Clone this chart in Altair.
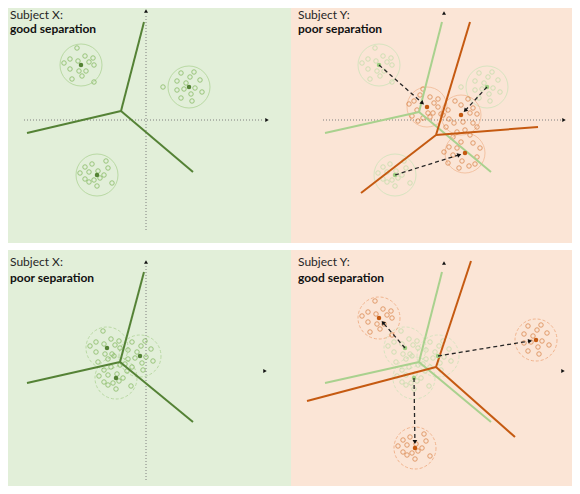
import math
import altair as alt
import pandas as pd

# ---------------- data (reference pixel frame) ----------------
panel_x0 = [3, 291, 3, 291]
panel_x1 = [291, 578, 291, 578]
panel_y0 = [0, 0, 250, 250]
panel_y1 = [243, 243, 494, 494]
panel_fill = ["#e2efd9", "#fbe5d6", "#e2efd9", "#fbe5d6"]

origin_x = [146, 444, 146, 444]
origin_y = [120, 120, 370, 370]

title_line1 = ["Subject X:", "Subject Y:", "Subject X:", "Subject Y:"]
title_line2 = ["good separation", "poor separation", "poor separation", "good separation"]
title_x = [10, 298, 10, 298]
title_y1 = [15, 15, 262, 262]
title_y2 = [29, 29, 278, 278]

# axis lines (dotted) and axis arrow heads
axis_x = [146, 24, 323, 146]
axis_y = [230, 120, 120, 480]
axis_x2 = [146, 264, 561, 146]
axis_y2 = [14, 120, 120, 265]
head_x = [146, 267, 444, 564, 146, 265, 444, 563]
head_y = [11, 120, 13, 120, 262, 371, 263, 371]
head_angle = [0, 90, 0, 90, 0, 90, 0, 90]

# decision boundaries relative to panel origin: junction + three branch ends
x_junction = [(-25, -9), (-25, -8), (-26, -8), (-25, -8)]
x_ends = [(-2, -98), (-119, 13), (47, 52)]
x_line_color = ["#548235", "#a9d18e", "#548235", "#a9d18e"]
y_junction = {1: (-8, 15), 3: (-8, -3)}
y_ends = {1: [(26, -98), (94, 7), (-83, 73)], 3: [(27, -109), (-137, 31), (71, 67)]}

# cluster point patterns (offsets from cluster centre)
pattern_1 = [(-4, -17), (-17, -2), (-11, -6), (-3, -4), (4, -9), (12, -7), (8, -3), (13, 0),
             (-11, 4), (-2, 6), (5, 6), (1, 11), (-9, 14), (13, 17)]
pattern_2 = [(-26, 0), (-8, -14), (5, -15), (-12, -6), (1, -10), (11, -7), (-3, -4), (-5, 2),
             (-12, 3), (6, 1), (13, 5), (2, 7), (-8, 11), (3, 14)]
pattern_3 = [(-12, -8), (-5, -11), (9, -14), (11, -7), (-17, -2), (-8, -3), (1, -4), (7, 0),
             (-12, 4), (-8, 7), (-3, 5), (3, 3), (15, 8), (0, 11)]
pattern_a = [(-4, -18), (-13, -6), (-18, -3), (3, -10), (11, -8), (7, -4), (-10, 3), (1, 6),
             (6, 6), (11, 0), (-4, 11), (3, 10), (-9, 14), (14, 7), (-7, -12), (-15, 9)]
pattern_b = [(0, -10), (-13, -5), (12, -7), (-12, 4), (-7, 8), (2, 7), (16, -1), (4, 15),
             (12, 8), (7, -16), (-6, -14), (-18, 0), (-4, 17), (16, 12), (9, -2), (-15, 12)]
pattern_c = [(-12, -16), (5, -18), (-4, -11), (8, -10), (-16, -6), (-8, -5), (-21, -1), (12, 4),
             (-12, 2), (-3, 8), (15, -5), (-6, 15), (4, 13), (-17, 10), (10, 11)]

x_good_centres = [(-65, -55), (43, -33), (-49, 55)]
x_poor_centres = [(-39, -22), (-6, -14), (-30, 8)]
y_poor_centres = [(-17, -13), (17, -5), (21, 33)]
y_good_centres = [(-65, -52), (92, -30), (-29, 78)]

# ---------------- build tables ----------------
panels = pd.DataFrame({"x0": panel_x0, "x1": panel_x1, "y0": panel_y0, "y1": panel_y1, "fill": panel_fill})

segs = []
for p in range(4):
    ox, oy = origin_x[p], origin_y[p]
    jx, jy = x_junction[p]
    for ex, ey in x_ends:
        segs.append(dict(x=ox + jx, y=oy + jy, x2=ox + ex, y2=oy + ey, col=x_line_color[p]))
for p in (1, 3):
    ox, oy = origin_x[p], origin_y[p]
    jx, jy = y_junction[p]
    for ex, ey in y_ends[p]:
        segs.append(dict(x=ox + jx, y=oy + jy, x2=ox + ex, y2=oy + ey, col="#c55a11"))
segs = pd.DataFrame(segs)

axes = pd.DataFrame({"x": axis_x, "y": axis_y, "x2": axis_x2, "y2": axis_y2})

cluster_sets = [
    # panel, centres, patterns, point colour, ring colour, dot colour, dashed, radius
    (0, x_good_centres, [pattern_1, pattern_2, pattern_3], "#70ad47", "#a9d18e", "#548235", False, 21),
    (1, x_good_centres, [pattern_1, pattern_2, pattern_3], "#b7dba0", "#c9e4b8", "#9fd083", False, 21),
    (1, y_poor_centres, [pattern_a, pattern_b, pattern_c], "#d2722f", "#f1b58e", "#c55a11", False, 20),
    (2, x_poor_centres, [pattern_1, pattern_2, pattern_3], "#70ad47", "#a9d18e", "#548235", True, 21),
    (3, x_poor_centres, [pattern_1, pattern_2, pattern_3], "#b7dba0", "#c9e4b8", "#9fd083", True, 21),
    (3, y_good_centres, [pattern_1, pattern_2[1:], pattern_3], "#d2722f", "#eea070", "#c55a11", True, 21),
]
pts, rings, dots = [], [], []
for p, centres, pats, pc, rc, dc, dashed, r in cluster_sets:
    ox, oy = origin_x[p], origin_y[p]
    for (cx, cy), pat in zip(centres, pats):
        X, Y = ox + cx, oy + cy
        rings.append(dict(x=X, y=Y, col=rc, dashed=dashed, size=(2 * r) ** 2))
        dots.append(dict(x=X, y=Y, col=dc))
        for dx, dy in pat:
            pts.append(dict(x=X + dx, y=Y + dy, col=pc))
pts, rings, dots = pd.DataFrame(pts), pd.DataFrame(rings), pd.DataFrame(dots)

arrows, heads = [], []
for p, src, dst in ((1, x_good_centres, y_poor_centres), (3, x_poor_centres, y_good_centres)):
    ox, oy = origin_x[p], origin_y[p]
    for (sx, sy), (tx, ty) in zip(src, dst):
        dx, dy = tx - sx, ty - sy
        L = math.hypot(dx, dy)
        ux, uy = dx / L, dy / L
        ex, ey = ox + tx - 4 * ux, oy + ty - 4 * uy
        arrows.append(dict(x=ox + sx, y=oy + sy, x2=ex - 2 * ux, y2=ey - 2 * uy))
        ang = math.degrees(math.atan2(ux, -uy)) % 360
        heads.append(dict(x=ex - 2 * ux, y=ey - 2 * uy, angle=ang))
arrows, heads = pd.DataFrame(arrows), pd.DataFrame(heads)
axis_heads = pd.DataFrame({"x": head_x, "y": head_y, "angle": head_angle})

titles1 = pd.DataFrame({"x": title_x, "y": title_y1, "t": title_line1})
titles2 = pd.DataFrame({"x": title_x, "y": title_y2, "t": title_line2})

# ---------------- chart ----------------
xs = alt.Scale(domain=[8, 572], nice=False, zero=False)
ys = alt.Scale(domain=[8, 486], nice=False, zero=False, reverse=True)
X = lambda f="x": alt.X(f"{f}:Q", scale=xs, axis=None)
Y = lambda f="y": alt.Y(f"{f}:Q", scale=ys, axis=None)

bg = alt.Chart(panels).mark_rect(clip=True).encode(
    x=X("x0"), x2="x1", y=Y("y0"), y2="y1", color=alt.Color("fill:N", scale=None))
axis_lines = alt.Chart(axes).mark_rule(color="#7f7f7f", strokeWidth=1, strokeDash=[1, 2]).encode(
    x=X(), y=Y(), x2="x2", y2="y2")
ring_solid = alt.Chart(rings[~rings.dashed]).mark_point(filled=False, shape="circle", strokeWidth=1).encode(
    x=X(), y=Y(), color=alt.Color("col:N", scale=None), size=alt.Size("size:Q", scale=None))
ring_dash = alt.Chart(rings[rings.dashed]).mark_point(filled=False, shape="circle", strokeWidth=1,
                                                     strokeDash=[3, 2]).encode(
    x=X(), y=Y(), color=alt.Color("col:N", scale=None), size=alt.Size("size:Q", scale=None))
small = alt.Chart(pts).mark_point(filled=False, shape="circle", size=20, strokeWidth=0.9).encode(
    x=X(), y=Y(), color=alt.Color("col:N", scale=None))
bounds = alt.Chart(segs).mark_rule(strokeWidth=2).encode(
    x=X(), y=Y(), x2="x2", y2="y2", color=alt.Color("col:N", scale=None))
centre = alt.Chart(dots).mark_point(filled=True, shape="circle", size=20, opacity=1).encode(
    x=X(), y=Y(), color=alt.Color("col:N", scale=None))
arrow_lines = alt.Chart(arrows).mark_rule(color="#262626", strokeWidth=1.3, strokeDash=[4, 3]).encode(
    x=X(), y=Y(), x2="x2", y2="y2")
arrow_heads = alt.Chart(heads).mark_point(filled=True, shape="triangle-up", size=22, color="#111111",
                                          opacity=1).encode(
    x=X(), y=Y(), angle=alt.Angle("angle:Q", scale=None))
ax_heads = alt.Chart(axis_heads).mark_point(filled=True, shape="triangle-up", size=16, color="#111111",
                                            opacity=1).encode(
    x=X(), y=Y(), angle=alt.Angle("angle:Q", scale=None))
t1 = alt.Chart(titles1).mark_text(align="left", baseline="middle", font="Lato", fontSize=12,
                                  color="#262626").encode(x=X(), y=Y(), text="t:N")
t2 = alt.Chart(titles2).mark_text(align="left", baseline="middle", font="Lato", fontSize=12,
                                  fontWeight="bold", color="#111111").encode(x=X(), y=Y(), text="t:N")

chart = alt.layer(bg, axis_lines, ring_solid, ring_dash, small, bounds, centre, arrow_lines,
                  arrow_heads, ax_heads, t1, t2).properties(
    width=564, height=478, autosize=alt.AutoSizeParams(type="none"), padding=0
).configure_view(stroke=None)

chart.save("out.html", embed_options={"renderer": "svg", "actions": False})
